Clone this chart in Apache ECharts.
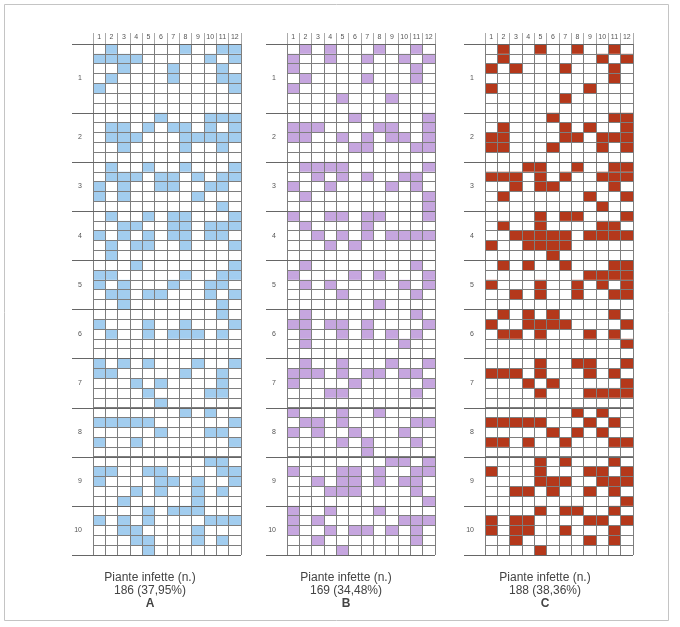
<!DOCTYPE html>
<html>
<head>
<meta charset="utf-8">
<script src="https://cdn.jsdelivr.net/npm/echarts@6/dist/echarts.min.js"></script>
<style>
  html, body { margin: 0; padding: 0; background: #fff; }
  #chart { width: 680px; height: 627px; }
</style>
</head>
<body>
<div id="chart"></div>
<script>
// Column headings (plants along a row) and block labels down the side
const columns = ['1', '2', '3', '4', '5', '6', '7', '8', '9', '10', '11', '12'];
const blockLabels = ['1', '2', '3', '4', '5', '6', '7', '8', '9', '10'];
const blockRows = [7, 5, 5, 5, 5, 5, 5, 5, 5, 5];

// Infected plants: for each row, the column numbers of infected plants
const infectedA = [
  [2, 8, 11, 12], [1, 2, 3, 4, 10, 12], [3, 7, 11], [2, 7, 11, 12], [1, 12], [], [],
  [6, 10, 11, 12], [2, 3, 5, 7, 8, 10, 12], [2, 3, 4, 8, 9, 10, 11, 12], [3, 8, 11], [],
  [2, 5, 8, 12], [2, 3, 4, 6, 7, 9, 11, 12], [1, 3, 6, 7, 10, 11], [1, 3, 9], [11],
  [2, 5, 7, 8, 12], [3, 4, 7, 8, 10, 11, 12], [1, 3, 5, 7, 8, 10, 11], [2, 4, 5, 8, 12], [2],
  [4, 12], [1, 2, 8, 11, 12], [1, 3, 7, 10, 11], [2, 3, 5, 6, 10, 12], [3, 11],
  [11], [1, 5, 8, 12], [2, 5, 7, 8, 9, 11], [], [],
  [1, 3, 5, 9, 12], [1, 2, 8, 11], [4, 6, 11], [5, 10, 11], [6],
  [8, 10], [1, 2, 3, 4, 5, 12], [6, 10, 11], [1, 4, 12], [],
  [10, 11], [1, 2, 5, 6, 11, 12], [1, 6, 7, 9, 12], [4, 6, 9, 11], [3, 9],
  [5, 7, 8, 9], [1, 3, 5, 10, 11, 12], [3, 4, 9], [4, 5, 9, 11], [5]
];
const infectedB = [
  [2, 4, 8, 11], [1, 4, 7, 10, 12], [1, 11], [2, 7, 11], [1], [5, 9], [],
  [6, 12], [1, 2, 3, 8, 9, 12], [1, 2, 5, 7, 9, 10, 12], [6, 7, 11, 12], [],
  [2, 3, 4, 5, 12], [3, 5, 7, 10, 11], [1, 4, 9, 11], [2, 12], [12],
  [1, 4, 5, 7, 8, 12], [2, 7], [3, 5, 7, 9, 10, 11, 12], [4, 6], [],
  [2, 11], [1, 6, 8, 12], [2, 4, 10, 12], [5, 11], [8],
  [2, 11], [1, 2, 4, 5, 7, 12], [2, 5, 7, 9, 11], [2, 10], [],
  [2, 5, 9, 12], [1, 2, 3, 5, 7, 8, 10, 11], [1, 6, 12], [4, 5, 11], [],
  [1, 5, 8], [2, 3, 5, 11, 12], [1, 3, 6, 10], [5, 7, 11], [7],
  [9, 10, 12], [1, 5, 6, 8, 11, 12], [3, 5, 6, 8, 10, 11], [4, 5, 6, 11], [12],
  [1, 4, 8], [1, 3, 10, 11, 12], [1, 4, 6, 7, 9, 11], [3, 11], [5]
];
const infectedC = [
  [2, 5, 8, 11], [2, 10, 12], [1, 3, 7, 11], [11], [1, 9], [7], [],
  [6, 11, 12], [2, 7, 9, 12], [1, 2, 7, 8, 10, 11, 12], [1, 2, 6, 10, 12], [],
  [4, 5, 8, 11, 12], [1, 2, 3, 5, 7, 10, 11, 12], [3, 5, 6, 11], [2, 9, 12], [10],
  [5, 7, 8, 12], [2, 5, 10, 11], [3, 4, 5, 6, 7, 9, 10, 11, 12], [1, 4, 5, 6, 7], [6],
  [2, 4, 7, 11, 12], [9, 10, 11, 12], [1, 5, 8, 10, 12], [3, 5, 8, 11, 12], [],
  [2, 4, 6, 11], [1, 4, 5, 6, 7, 12], [2, 3, 5, 9, 11], [12], [],
  [5, 8, 9, 12], [1, 2, 3, 5, 9, 11], [4, 6, 12], [5, 9, 10, 11, 12], [],
  [8, 10], [1, 2, 3, 4, 5, 9, 11], [6, 8, 10], [1, 2, 4, 7, 11, 12], [],
  [5, 7, 11], [1, 5, 9, 10, 12], [5, 6, 7, 10, 11, 12], [3, 4, 6, 9, 11], [12],
  [5, 7, 8, 11], [1, 3, 4, 9, 10, 12], [1, 3, 4, 7, 11], [3, 9, 11], [5]
];

const panelNames = ['A', 'B', 'C'];
const percentages = ['37,95', '34,48', '38,36'];
const captionTitle = 'Piante infette (n.)';

// ---- layout and styling ----
const panelLefts = [93, 287, 485];
const captionCenters = [150, 346, 545];
const panelColors = ['#a2cdef', '#c6a6df', '#b4381b'];
const gridTop = 44, gridHeight = 511, gridWidth = 148;
const lineColor = '#7e7e7e';
const textColor = '#555';
const fontFamily = 'Liberation Sans, Arial, sans-serif';

// Row categories and the label placed at the middle row of each block
const rowNames = [];
const rowLabel = {};
let start = 0;
blockRows.forEach((n, b) => {
  for (let i = 0; i < n; i++) rowNames.push(String(start + i));
  rowLabel[start + Math.floor(n / 2)] = blockLabels[b];
  start += n;
});
const blockBounds = [0];
blockRows.reduce((acc, n) => { acc += n; blockBounds.push(acc); return acc; }, 0);

const infectedSets = [infectedA, infectedB, infectedC];

const grids = [], xAxes = [], yAxes = [], series = [];
infectedSets.forEach((rows, p) => {
  grids.push({ left: panelLefts[p], top: gridTop, width: gridWidth, height: gridHeight });
  xAxes.push({
    gridIndex: p, type: 'category', position: 'top', data: columns,
    axisLine: { show: true, lineStyle: { color: '#6f6f6f', width: 1 } },
    axisTick: { show: true, length: 11, interval: 0, lineStyle: { color: '#aaa', width: 1 } },
    axisLabel: { interval: 0, margin: 3, fontSize: 7, color: textColor, fontFamily: fontFamily },
    splitLine: { show: true, interval: 0, lineStyle: { color: lineColor, width: 1 } }
  });
  yAxes.push({
    gridIndex: p, type: 'category', inverse: true, data: rowNames,
    axisLine: { show: false }, axisTick: { show: false },
    axisLabel: {
      interval: 0, margin: 11, fontSize: 7, color: textColor, fontFamily: fontFamily,
      formatter: (v, idx) => rowLabel[idx] || ''
    },
    splitLine: { show: true, interval: 0, lineStyle: { color: lineColor, width: 1 } }
  });

  // one data item per infected plant: [column index, row index]
  const cells = [];
  rows.forEach((cols, r) => cols.forEach(c => cells.push([c - 1, r])));
  const fill = panelColors[p];
  series.push({
    type: 'custom', xAxisIndex: p, yAxisIndex: p, z: -1, data: cells,
    renderItem: (params, api) => {
      const c = api.coord([api.value(0), api.value(1)]);
      const s = api.size([1, 1]);
      return {
        type: 'rect',
        shape: { x: c[0] - s[0] / 2, y: c[1] - s[1] / 2, width: s[0], height: s[1] },
        style: { fill: fill }
      };
    }
  });

  // block separators, reaching out to the block labels
  series.push({
    type: 'custom', xAxisIndex: p, yAxisIndex: p, z: 3, clip: false,
    data: blockBounds.map(b => [0, b]),
    renderItem: (params, api) => {
      const b = api.value(1);
      const cs = params.coordSys;
      const s = api.size([1, 1]);
      let y;
      if (b < rowNames.length) y = api.coord([0, b])[1] - s[1] / 2;
      else y = api.coord([0, rowNames.length - 1])[1] + s[1] / 2;
      y = Math.round(y) + 0.5;
      return {
        type: 'line',
        shape: { x1: cs.x - 21, y1: y, x2: cs.x + cs.width, y2: y },
        style: { stroke: '#666', lineWidth: 1 }
      };
    }
  });
});

// captions under each panel
const graphics = [{
  type: 'rect', silent: true,
  shape: { x: 4.5, y: 4.5, width: 664, height: 616 },
  style: { fill: 'none', stroke: '#c4c4c4', lineWidth: 1 }
}];
infectedSets.forEach((rows, p) => {
  const count = rows.reduce((n, r) => n + r.length, 0);
  const lines = [
    { text: captionTitle, y: 572, weight: 'normal' },
    { text: count + ' (' + percentages[p] + '%)', y: 585, weight: 'normal' },
    { text: panelNames[p], y: 598, weight: 'bold' }
  ];
  lines.forEach(l => graphics.push({
    type: 'text', silent: true, x: captionCenters[p], y: l.y,
    style: {
      text: l.text, fill: '#444', fontSize: 12, fontFamily: fontFamily,
      fontWeight: l.weight, align: 'center', verticalAlign: 'top'
    }
  }));
});

const chart = echarts.init(document.getElementById('chart'), null, { renderer: 'canvas' });
chart.setOption({
  animation: false,
  backgroundColor: '#fff',
  grid: grids,
  xAxis: xAxes,
  yAxis: yAxes,
  series: series,
  graphic: graphics
});
</script>
</body>
</html>
